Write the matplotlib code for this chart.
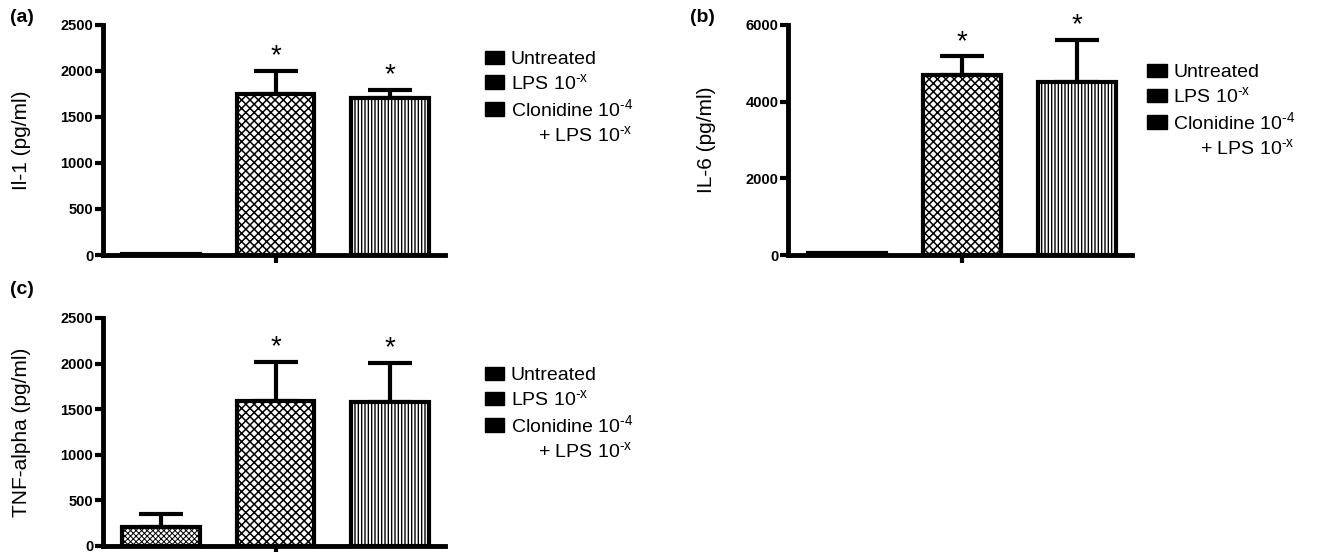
import matplotlib
matplotlib.use('Agg')
import matplotlib.pyplot as plt
from matplotlib.patches import Patch

plt.rcParams['font.family'] = ['Liberation Sans', 'DejaVu Sans']
plt.rcParams['mathtext.fontset'] = 'custom'
plt.rcParams['mathtext.rm'] = 'Liberation Sans'
plt.rcParams['mathtext.it'] = 'Liberation Sans'
plt.rcParams['hatch.linewidth'] = 1.0

groups = ['Untreated', r'LPS 10$^{\text{-x}}$', r'Clonidine 10$^{\text{-4}}$']
il1_mean = [12, 1750, 1710]
il1_err = [0, 250, 85]
il6_mean = [60, 4690, 4500]
il6_err = [0, 490, 1115]
tnf_mean = [212, 1590, 1580]
tnf_err = [135, 428, 430]
hatches = ['xxxxxx', 'xxxx', '|||||']
hatch_lw = [0.7, 1.1, 1.0]

fig = plt.figure(figsize=(13.25, 5.52), dpi=100)
ax_a = fig.add_axes([0.0777, 0.538, 0.258, 0.417])
ax_b = fig.add_axes([0.5947, 0.538, 0.260, 0.417])
ax_c = fig.add_axes([0.0777, 0.011, 0.258, 0.413])


def draw_panel(ax, means, errs, ymax, step, ylabel, tag, tag_xy, legend_xy):
    x = [0, 1, 2]
    for i in range(3):
        with plt.rc_context({'hatch.linewidth': hatch_lw[i]}):
            ax.bar(x[i], means[i], width=0.68, color='white', edgecolor='black',
                   linewidth=3, hatch=hatches[i], zorder=3)
        if errs[i] > 0:
            ax.errorbar(x[i], means[i], yerr=[[0], [errs[i]]], fmt='none',
                        ecolor='black', elinewidth=3, capsize=16, capthick=3, zorder=2)
    for i in [1, 2]:
        ax.annotate('*', (x[i], means[i] + errs[i]), xytext=(0, 1),
                    textcoords='offset points', ha='center', va='bottom',
                    fontsize=20)
    ax.set_xlim(-0.51, 2.48)
    ax.set_ylim(0, ymax)
    ax.set_yticks(range(0, ymax + 1, step))
    ax.set_xticks([1])
    ax.set_xticklabels([''])
    for lab in ax.get_yticklabels():
        lab.set_fontweight('bold')
    ax.tick_params(axis='both', width=3, length=6, labelsize=10.5, pad=1)
    for s in ['top', 'right']:
        ax.spines[s].set_visible(False)
    for s in ['left', 'bottom']:
        ax.spines[s].set_linewidth(3.5)
    ax.set_ylabel(ylabel, fontsize=15, labelpad=21)
    fig.text(tag_xy[0] / 1325, 1 - tag_xy[1] / 552, tag, fontsize=14,
             fontweight='bold', ha='left', va='center')
    handles = [Patch(facecolor='black', edgecolor='black') for h in hatches]
    handles.append(Patch(facecolor='none', edgecolor='none'))
    labels = groups + [r'     + LPS 10$^{\text{-x}}$']
    ax.legend(handles, labels, loc='upper left', bbox_to_anchor=legend_xy,
              bbox_transform=fig.transFigure, frameon=False, fontsize=14,
              handlelength=1.0, handleheight=0.7, handletextpad=0.35,
              labelspacing=0.25, borderpad=0)


draw_panel(ax_a, il1_mean, il1_err, 2500, 500, 'Il-1 (pg/ml)', '(a)', (10, 18),
           (0.3585, 0.926))
draw_panel(ax_b, il6_mean, il6_err, 6000, 2000, 'IL-6 (pg/ml)', '(b)', (690, 18),
           (0.8585, 0.902))
draw_panel(ax_c, tnf_mean, tnf_err, 2500, 500, 'TNF-alpha (pg/ml)', '(c)', (10, 290),
           (0.3585, 0.353))

fig.savefig('out.png', dpi=100)
